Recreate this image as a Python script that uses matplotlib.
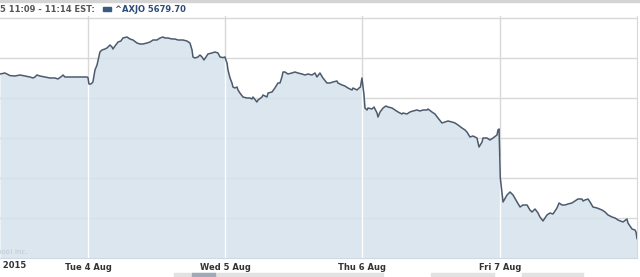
import numpy as np
import matplotlib
matplotlib.use("Agg")
import matplotlib.pyplot as plt
from matplotlib.patches import Rectangle

# ^AXJO intraday, x = day of August 2015 (fractional), y = index level
mon_t = [3.359, 3.395, 3.432, 3.468, 3.505, 3.541, 3.577, 3.599, 3.614, 3.628, 3.650, 3.687,
         3.723, 3.760, 3.781, 3.811, 3.818, 3.832, 3.869, 3.905, 3.942, 3.978, 3.993]
mon_v = [5762, 5762.5, 5761.2, 5761, 5761.5, 5761, 5760.5, 5760, 5760.5, 5761.5, 5761, 5760.5,
         5760, 5760, 5759.5, 5761, 5761.5, 5760.5, 5760.5, 5760.5, 5760.5, 5760.5, 5760.5]

tue_t = [4.000, 4.007, 4.022, 4.036, 4.051, 4.066, 4.087, 4.102, 4.124, 4.138, 4.146, 4.160,
         4.175, 4.182, 4.197, 4.219, 4.240, 4.255, 4.284, 4.306, 4.328, 4.357, 4.379, 4.401,
         4.430, 4.452, 4.474, 4.503, 4.525, 4.546, 4.561, 4.583, 4.612, 4.634, 4.656, 4.692,
         4.721, 4.743, 4.758, 4.765, 4.780, 4.801, 4.816, 4.831, 4.845, 4.860, 4.874, 4.903,
         4.925, 4.947, 4.962, 4.984, 4.998]
tue_v = [5760.2, 5757, 5757, 5758, 5764, 5766.5, 5773, 5774, 5774.5, 5775, 5775.5, 5776.5,
         5775.5, 5774.5, 5776, 5778, 5778.5, 5780, 5780.5, 5779.5, 5779, 5777.5, 5777, 5777,
         5777.5, 5778, 5779, 5779, 5780, 5780.5, 5780, 5780, 5779.5, 5779.5, 5779, 5779,
         5778.5, 5777.5, 5774, 5770.5, 5770, 5770.5, 5771.5, 5770.5, 5769, 5770.5, 5772, 5772.5,
         5773, 5772.5, 5770.5, 5770.2, 5770.5]

wed_t = [5.005, 5.013, 5.020, 5.035, 5.049, 5.056, 5.071, 5.086, 5.093, 5.107, 5.129, 5.158,
         5.180, 5.195, 5.202, 5.231, 5.239, 5.268, 5.275, 5.304, 5.312, 5.341, 5.362, 5.384,
         5.399, 5.413, 5.421, 5.435, 5.457, 5.486, 5.508, 5.530, 5.559, 5.581, 5.603, 5.632,
         5.654, 5.668, 5.690, 5.712, 5.741, 5.763, 5.785, 5.814, 5.821, 5.851, 5.872, 5.894,
         5.924, 5.931, 5.960, 5.975, 5.985, 5.996]
wed_v = [5769, 5767.5, 5764, 5760, 5757.5, 5755.5, 5755, 5755.5, 5754, 5752.5, 5750.5, 5750,
         5750, 5749.5, 5750.5, 5748, 5749, 5750.5, 5751.5, 5750.5, 5752.5, 5753, 5755, 5757.5,
         5757.5, 5760.5, 5763, 5763, 5762, 5762.5, 5763, 5762.5, 5762, 5761.5, 5762, 5761.5,
         5762.5, 5760.5, 5762.5, 5760, 5757.5, 5757.5, 5758, 5758.5, 5757.5, 5756.5, 5756, 5755,
         5754, 5755, 5754, 5755, 5755.5, 5760]

thu_t = [6.011, 6.018, 6.033, 6.040, 6.069, 6.084, 6.106, 6.113, 6.128, 6.150, 6.171, 6.186,
         6.215, 6.237, 6.259, 6.288, 6.295, 6.324, 6.346, 6.368, 6.397, 6.419, 6.441, 6.470,
         6.477, 6.506, 6.528, 6.550, 6.579, 6.601, 6.623, 6.652, 6.674, 6.696, 6.725, 6.747,
         6.761, 6.783, 6.805, 6.834, 6.849, 6.871, 6.878, 6.907, 6.929, 6.951, 6.980, 6.987,
         6.995]
thu_v = [5751.5, 5745, 5744, 5745, 5744.5, 5745.5, 5742.5, 5740.5, 5743, 5745, 5746, 5745.5,
         5745, 5744, 5743, 5742, 5742.5, 5742, 5743, 5743.5, 5744, 5743.5, 5744, 5744,
         5744.5, 5743, 5742, 5740, 5737.5, 5738, 5738.5, 5738, 5737.5, 5736.5, 5735, 5734,
         5733, 5730.5, 5731, 5730, 5725.5, 5728, 5730, 5730, 5729, 5730, 5731.5, 5734,
         5734.5]

fri_t = [7.004, 7.024, 7.053, 7.075, 7.097, 7.126, 7.148, 7.169, 7.199, 7.220, 7.235, 7.257,
         7.279, 7.293, 7.315, 7.344, 7.366, 7.388, 7.417, 7.432, 7.454, 7.475, 7.497, 7.526,
         7.548, 7.570, 7.599, 7.607, 7.621, 7.643, 7.658, 7.679, 7.709, 7.745, 7.767, 7.789,
         7.818, 7.840, 7.862, 7.898, 7.927, 7.934, 7.964, 7.985, 7.993, 8.000]
fri_v = [5710, 5698, 5701.5, 5703, 5701.5, 5698, 5695.5, 5696.5, 5696.5, 5694, 5693, 5694.5,
         5692.5, 5690.5, 5688.5, 5691.5, 5692.5, 5692, 5695, 5697.5, 5696.5, 5696.5, 5697, 5697.5,
         5698.5, 5699.5, 5699.5, 5698.5, 5699, 5699.5, 5698, 5695.5, 5695, 5694, 5693, 5691.5,
         5690.5, 5690, 5689, 5688, 5689.5, 5687.5, 5684.5, 5684, 5683, 5679.7]

day_ticks = [4, 5, 6, 7]
day_labels = ['Tue 4 Aug', 'Wed 5 Aug', 'Thu 6 Aug', 'Fri 7 Aug']
header_range = '5 11:09 - 11:14 EST:'
header_series = '^AXJO 5679.70'

t = np.array(mon_t + tue_t + wed_t + thu_t + fri_t)
v = np.array(mon_v + tue_v + wed_v + thu_v + fri_v)

fig = plt.figure(figsize=(6.4, 2.77), dpi=100)
ax = fig.add_axes([0, 19 / 277, 637 / 640, 242 / 277])

ymin, ymax = 5670, 5791
ax.set_xlim(3.359, 8.0)
ax.set_ylim(ymin, ymax)

# grid
ax.set_yticks(np.arange(5690, 5791, 20))
ax.set_xticks(day_ticks)
ax.set_xticklabels(day_labels, fontsize=6, fontweight='bold', color='#333333')
ax.tick_params(axis='x', length=0, pad=3.5)
ax.tick_params(axis='y', length=0, labelleft=False)
ax.grid(True, color='#d8d8d8', lw=1)
ax.set_axisbelow(True)
for s in ['left', 'top']:
    ax.spines[s].set_visible(False)
ax.spines['right'].set_color('#d8d8d8')
ax.spines['bottom'].set_color('#cfd9e3')

# area + white day separators inside the fill
ax.fill_between(t, v, ymin, color='#d5e2ed', alpha=0.85, lw=0, zorder=2)
ax.vlines(day_ticks, ymin, np.interp(day_ticks, t, v), color='white', lw=1, zorder=2.5)
ax.plot(t, v, color='#4b5a6d', lw=1.1, zorder=3)

ax.text(-0.5 / 637 * 0 + 28 / 637, 6 / 242, '\u00a9 Yahoo! Inc.', transform=ax.transAxes,
        ha='right', va='center', fontsize=5, color='#b9c6d3', zorder=4)
ax.text(26 / 637, -7.5 / 242, 'Mon 3 Aug 2015', transform=ax.transAxes, ha='right', va='center',
        fontsize=6, fontweight='bold', color='#333333', clip_on=False)

# header
fig.text(0, 1 - 9 / 277, header_range, ha='left', va='center', fontsize=6,
         fontweight='bold', color='#555555')
fig.patches.append(Rectangle((103 / 640, 1 - 10.5 / 277), 8 / 640, 3 / 277,
                             transform=fig.transFigure, color='#3b5a82', figure=fig))
fig.text(115 / 640, 1 - 9 / 277, header_series, ha='left', va='center', fontsize=6,
         fontweight='bold', color='#2c4d78')
fig.patches.append(Rectangle((0, 1 - 2 / 277), 1, 2 / 277, transform=fig.transFigure,
                             color='#d4d4d4', figure=fig))

# scrollbar pieces at the bottom edge
for x0, x1, c in [(174, 383, '#e2e2e2'), (192, 215, '#9fa9b8'), (431, 494, '#e2e2e2'),
                  (522, 583, '#e2e2e2')]:
    fig.patches.append(Rectangle((x0 / 640, 0), (x1 - x0) / 640, 4 / 277,
                                 transform=fig.transFigure, color=c, figure=fig))

fig.savefig('out.png', dpi=100)
